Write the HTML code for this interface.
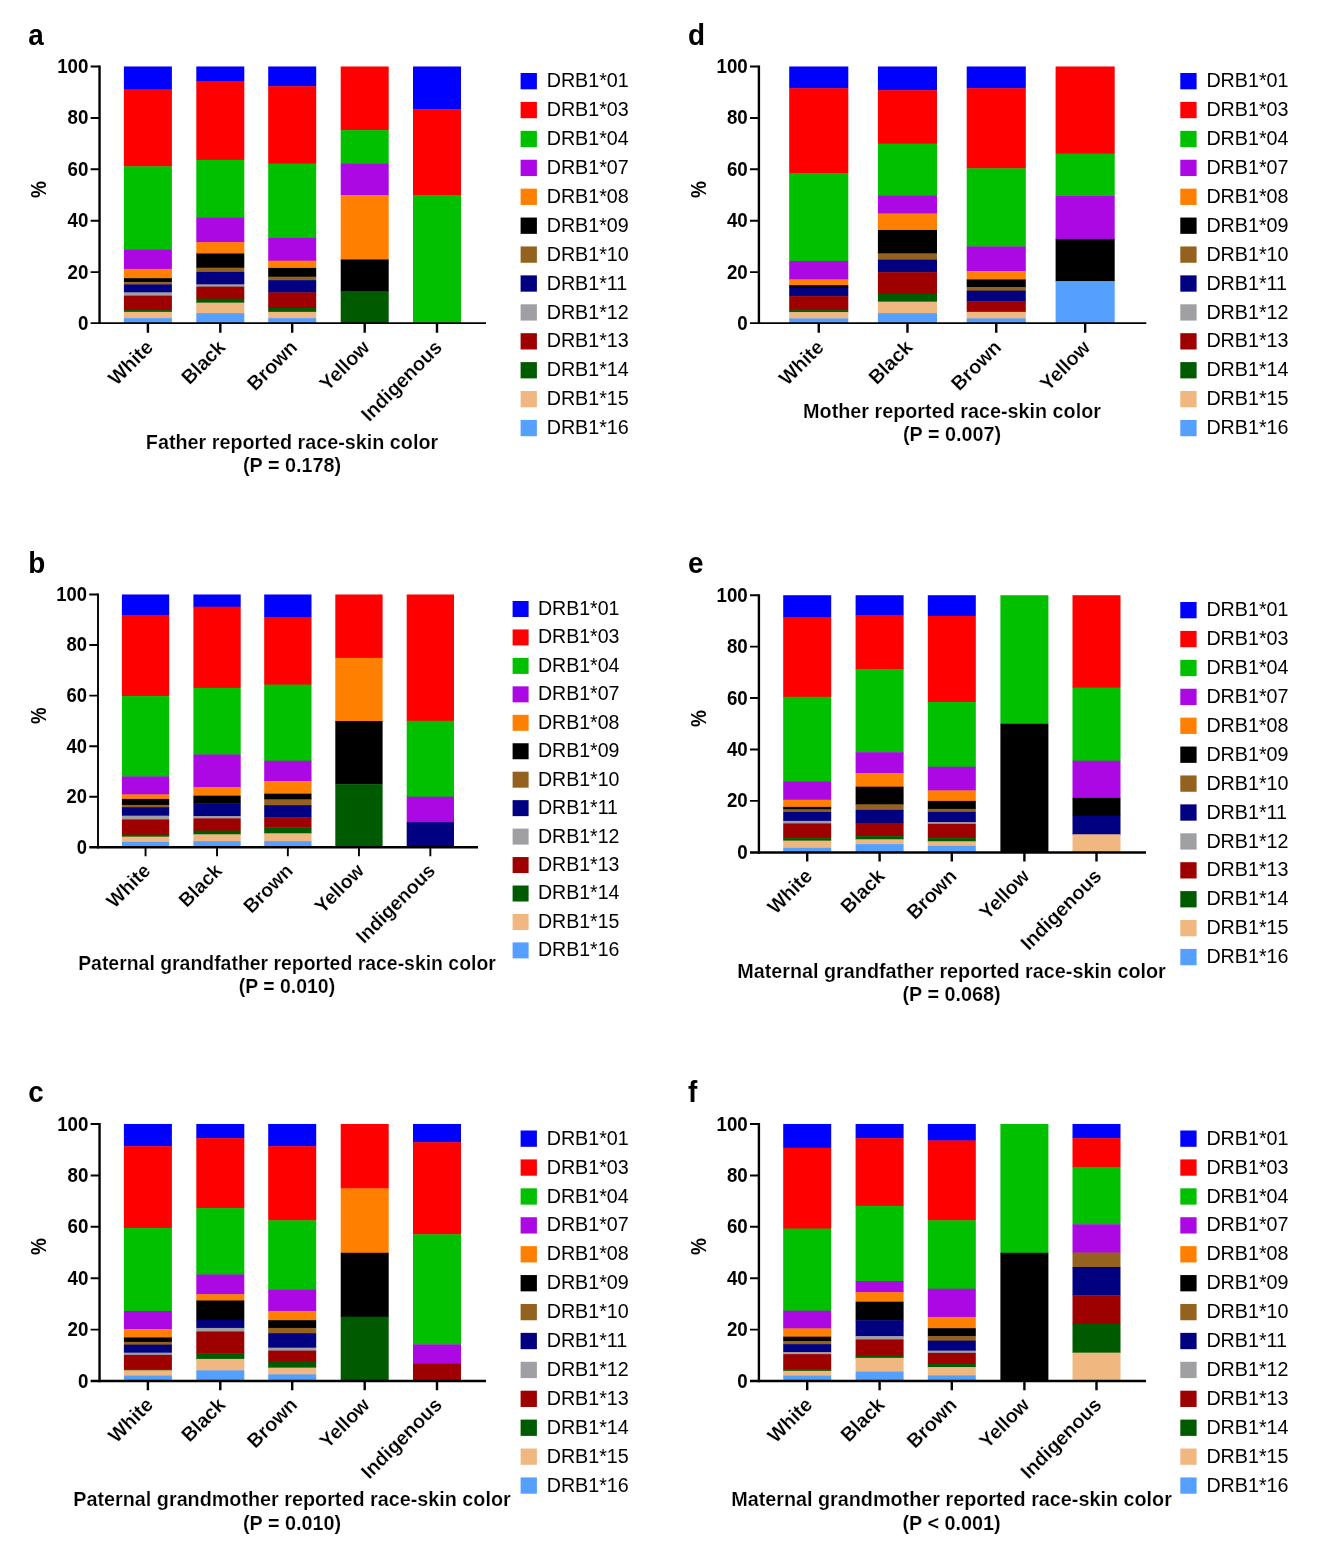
<!DOCTYPE html>
<html><head><meta charset="utf-8"><title>HLA-DRB1 by reported race-skin color</title>
<style>html,body{margin:0;padding:0;background:#fff}svg{display:block;will-change:transform}text{font-family:"Liberation Sans",sans-serif;fill:#000}.L{font-weight:bold}.b{font-weight:bold;stroke:#fff;stroke-width:0.17px}</style></head><body>
<svg width="1322" height="1565" viewBox="0 0 1322 1565">
<rect width="1322" height="1565" fill="#fff"/>
<g><!-- panel a -->
<text class="L" transform="translate(28.2 44.6) scale(0.93 1)" font-size="30">a</text>
<rect x="123.9" y="66.48" width="48" height="23.37" fill="#0000FF"/>
<rect x="123.9" y="89.44" width="48" height="77.28" fill="#FF0000"/>
<rect x="123.9" y="166.33" width="48" height="83.53" fill="#00C000"/>
<rect x="123.9" y="249.45" width="48" height="19.87" fill="#AB08E3"/>
<rect x="123.9" y="268.92" width="48" height="9.64" fill="#FF8000"/>
<rect x="123.9" y="278.16" width="48" height="4.14" fill="#000000"/>
<rect x="123.9" y="281.9" width="48" height="2.9" fill="#94621E"/>
<rect x="123.9" y="284.4" width="48" height="8.39" fill="#000080"/>
<rect x="123.9" y="292.39" width="48" height="3.65" fill="#A0A0A4"/>
<rect x="123.9" y="295.63" width="48" height="14.88" fill="#9E0000"/>
<rect x="123.9" y="310.11" width="48" height="2.15" fill="#005A00"/>
<rect x="123.9" y="311.86" width="48" height="6.64" fill="#F0B880"/>
<rect x="123.9" y="318.1" width="48" height="5.14" fill="#55A0FF"/>
<rect x="196.3" y="66.48" width="48" height="14.88" fill="#0000FF"/>
<rect x="196.3" y="80.95" width="48" height="79.28" fill="#FF0000"/>
<rect x="196.3" y="159.84" width="48" height="58.06" fill="#00C000"/>
<rect x="196.3" y="217.5" width="48" height="25.11" fill="#AB08E3"/>
<rect x="196.3" y="242.21" width="48" height="11.63" fill="#FF8000"/>
<rect x="196.3" y="253.44" width="48" height="14.63" fill="#000000"/>
<rect x="196.3" y="267.67" width="48" height="4.64" fill="#94621E"/>
<rect x="196.3" y="271.92" width="48" height="12.88" fill="#000080"/>
<rect x="196.3" y="284.4" width="48" height="2.65" fill="#A0A0A4"/>
<rect x="196.3" y="286.65" width="48" height="12.38" fill="#9E0000"/>
<rect x="196.3" y="298.63" width="48" height="4.39" fill="#005A00"/>
<rect x="196.3" y="302.62" width="48" height="10.88" fill="#F0B880"/>
<rect x="196.3" y="313.11" width="48" height="10.14" fill="#55A0FF"/>
<rect x="268.2" y="66.48" width="48" height="20.12" fill="#0000FF"/>
<rect x="268.2" y="86.2" width="48" height="77.78" fill="#FF0000"/>
<rect x="268.2" y="163.58" width="48" height="74.79" fill="#00C000"/>
<rect x="268.2" y="237.97" width="48" height="23.12" fill="#AB08E3"/>
<rect x="268.2" y="260.68" width="48" height="7.64" fill="#FF8000"/>
<rect x="268.2" y="267.92" width="48" height="9.14" fill="#000000"/>
<rect x="268.2" y="276.66" width="48" height="3.89" fill="#94621E"/>
<rect x="268.2" y="280.15" width="48" height="12.63" fill="#000080"/>
<rect x="268.2" y="292.39" width="48" height="15.88" fill="#9E0000"/>
<rect x="268.2" y="307.86" width="48" height="4.39" fill="#005A00"/>
<rect x="268.2" y="311.86" width="48" height="6.64" fill="#F0B880"/>
<rect x="268.2" y="318.1" width="48" height="5.14" fill="#55A0FF"/>
<rect x="340.7" y="66.48" width="48" height="64.05" fill="#FF0000"/>
<rect x="340.7" y="130.13" width="48" height="33.6" fill="#00C000"/>
<rect x="340.7" y="163.33" width="48" height="32.1" fill="#AB08E3"/>
<rect x="340.7" y="195.03" width="48" height="64.8" fill="#FF8000"/>
<rect x="340.7" y="259.44" width="48" height="32.35" fill="#000000"/>
<rect x="340.7" y="291.39" width="48" height="31.85" fill="#005A00"/>
<rect x="413" y="66.48" width="48" height="43.09" fill="#0000FF"/>
<rect x="413" y="109.16" width="48" height="86.27" fill="#FF0000"/>
<rect x="413" y="195.03" width="48" height="128.21" fill="#00C000"/>
<path d="M99.55 65.53V324.1" stroke="#000" stroke-width="2.4" fill="none"/>
<path d="M90.65 323.2H486" stroke="#000" stroke-width="1.8" fill="none"/>
<text class="L" transform="translate(88.35 329.7) scale(0.935 1.045)" font-size="20" text-anchor="end">0</text>
<text class="L" transform="translate(88.35 278.6) scale(0.935 1.045)" font-size="20" text-anchor="end">20</text>
<text class="L" transform="translate(88.35 227.2) scale(0.935 1.045)" font-size="20" text-anchor="end">40</text>
<text class="L" transform="translate(88.35 175.8) scale(0.935 1.045)" font-size="20" text-anchor="end">60</text>
<text class="L" transform="translate(88.35 124.4) scale(0.935 1.045)" font-size="20" text-anchor="end">80</text>
<text class="L" transform="translate(88.35 73) scale(0.935 1.045)" font-size="20" text-anchor="end">100</text>
<path d="M90.65 272.1H99.55M90.65 220.7H99.55M90.65 169.3H99.55M90.65 117.9H99.55M90.65 66.5H99.55" stroke="#000" stroke-width="1.95" fill="none"/>
<text class="b" transform="translate(154.1 348.6) rotate(-45) scale(0.98 1)" font-size="20" text-anchor="end">White</text>
<text class="b" transform="translate(226.5 348.6) rotate(-45) scale(0.98 1)" font-size="20" text-anchor="end">Black</text>
<text class="b" transform="translate(298.4 348.6) rotate(-45) scale(0.98 1)" font-size="20" text-anchor="end">Brown</text>
<text class="b" transform="translate(370.9 348.6) rotate(-45) scale(0.98 1)" font-size="20" text-anchor="end">Yellow</text>
<text class="b" transform="translate(443.2 348.6) rotate(-45) scale(0.98 1)" font-size="20" text-anchor="end">Indigenous</text>
<path d="M147.9 323.2V332.7M220.3 323.2V332.7M292.2 323.2V332.7M364.7 323.2V332.7M437 323.2V332.7" stroke="#000" stroke-width="2.4" fill="none"/>
<text class="L" transform="translate(46.2 189.6) rotate(-90) scale(0.95 1.08)" font-size="20" text-anchor="middle">%</text>
<text class="b" transform="translate(292 448.6) scale(1 1.035)" font-size="19.8" text-anchor="middle">Father reported race-skin color</text>
<text class="b" transform="translate(292 472) scale(1 1.035)" font-size="19.8" text-anchor="middle">(P = 0.178)</text>
<rect x="520.6" y="73" width="16.3" height="16.3" fill="#0000FF"/>
<text x="546.7" y="87.25" font-size="19.7">DRB1*01</text>
<rect x="520.6" y="101.91" width="16.3" height="16.3" fill="#FF0000"/>
<text x="546.7" y="116.16" font-size="19.7">DRB1*03</text>
<rect x="520.6" y="130.82" width="16.3" height="16.3" fill="#00C000"/>
<text x="546.7" y="145.07" font-size="19.7">DRB1*04</text>
<rect x="520.6" y="159.73" width="16.3" height="16.3" fill="#AB08E3"/>
<text x="546.7" y="173.98" font-size="19.7">DRB1*07</text>
<rect x="520.6" y="188.64" width="16.3" height="16.3" fill="#FF8000"/>
<text x="546.7" y="202.89" font-size="19.7">DRB1*08</text>
<rect x="520.6" y="217.55" width="16.3" height="16.3" fill="#000000"/>
<text x="546.7" y="231.8" font-size="19.7">DRB1*09</text>
<rect x="520.6" y="246.46" width="16.3" height="16.3" fill="#94621E"/>
<text x="546.7" y="260.71" font-size="19.7">DRB1*10</text>
<rect x="520.6" y="275.37" width="16.3" height="16.3" fill="#000080"/>
<text x="546.7" y="289.62" font-size="19.7">DRB1*11</text>
<rect x="520.6" y="304.28" width="16.3" height="16.3" fill="#A0A0A4"/>
<text x="546.7" y="318.53" font-size="19.7">DRB1*12</text>
<rect x="520.6" y="333.19" width="16.3" height="16.3" fill="#9E0000"/>
<text x="546.7" y="347.44" font-size="19.7">DRB1*13</text>
<rect x="520.6" y="362.1" width="16.3" height="16.3" fill="#005A00"/>
<text x="546.7" y="376.35" font-size="19.7">DRB1*14</text>
<rect x="520.6" y="391.01" width="16.3" height="16.3" fill="#F0B880"/>
<text x="546.7" y="405.26" font-size="19.7">DRB1*15</text>
<rect x="520.6" y="419.92" width="16.3" height="16.3" fill="#55A0FF"/>
<text x="546.7" y="434.17" font-size="19.7">DRB1*16</text>
</g>
<g><!-- panel b -->
<text class="L" transform="translate(28.2 573) scale(0.93 1)" font-size="30">b</text>
<rect x="121.9" y="594.48" width="47.3" height="20.87" fill="#0000FF"/>
<rect x="121.9" y="614.94" width="47.3" height="81.53" fill="#FF0000"/>
<rect x="121.9" y="696.07" width="47.3" height="80.78" fill="#00C000"/>
<rect x="121.9" y="776.45" width="47.3" height="18.37" fill="#AB08E3"/>
<rect x="121.9" y="794.43" width="47.3" height="4.89" fill="#FF8000"/>
<rect x="121.9" y="798.92" width="47.3" height="6.39" fill="#000000"/>
<rect x="121.9" y="804.91" width="47.3" height="2.65" fill="#94621E"/>
<rect x="121.9" y="807.16" width="47.3" height="8.89" fill="#000080"/>
<rect x="121.9" y="815.64" width="47.3" height="4.14" fill="#A0A0A4"/>
<rect x="121.9" y="819.39" width="47.3" height="15.63" fill="#9E0000"/>
<rect x="121.9" y="834.62" width="47.3" height="2.4" fill="#005A00"/>
<rect x="121.9" y="836.61" width="47.3" height="5.64" fill="#F0B880"/>
<rect x="121.9" y="841.85" width="47.3" height="4.89" fill="#55A0FF"/>
<rect x="193.4" y="594.48" width="47.3" height="12.63" fill="#0000FF"/>
<rect x="193.4" y="606.71" width="47.3" height="81.53" fill="#FF0000"/>
<rect x="193.4" y="687.84" width="47.3" height="67.05" fill="#00C000"/>
<rect x="193.4" y="754.49" width="47.3" height="33.1" fill="#AB08E3"/>
<rect x="193.4" y="787.19" width="47.3" height="8.89" fill="#FF8000"/>
<rect x="193.4" y="795.67" width="47.3" height="8.14" fill="#000000"/>
<rect x="193.4" y="803.41" width="47.3" height="13.13" fill="#000080"/>
<rect x="193.4" y="816.14" width="47.3" height="2.65" fill="#A0A0A4"/>
<rect x="193.4" y="818.39" width="47.3" height="12.63" fill="#9E0000"/>
<rect x="193.4" y="830.62" width="47.3" height="4.14" fill="#005A00"/>
<rect x="193.4" y="834.37" width="47.3" height="7.14" fill="#F0B880"/>
<rect x="193.4" y="841.11" width="47.3" height="5.64" fill="#55A0FF"/>
<rect x="264.2" y="594.48" width="47.3" height="22.87" fill="#0000FF"/>
<rect x="264.2" y="616.94" width="47.3" height="68.05" fill="#FF0000"/>
<rect x="264.2" y="684.59" width="47.3" height="76.54" fill="#00C000"/>
<rect x="264.2" y="760.73" width="47.3" height="20.87" fill="#AB08E3"/>
<rect x="264.2" y="781.2" width="47.3" height="12.88" fill="#FF8000"/>
<rect x="264.2" y="793.68" width="47.3" height="6.14" fill="#000000"/>
<rect x="264.2" y="799.42" width="47.3" height="6.14" fill="#94621E"/>
<rect x="264.2" y="805.16" width="47.3" height="12.38" fill="#000080"/>
<rect x="264.2" y="817.14" width="47.3" height="10.63" fill="#9E0000"/>
<rect x="264.2" y="827.38" width="47.3" height="6.39" fill="#005A00"/>
<rect x="264.2" y="833.37" width="47.3" height="8.14" fill="#F0B880"/>
<rect x="264.2" y="841.11" width="47.3" height="5.64" fill="#55A0FF"/>
<rect x="335.3" y="594.48" width="47.3" height="63.8" fill="#FF0000"/>
<rect x="335.3" y="657.88" width="47.3" height="63.56" fill="#FF8000"/>
<rect x="335.3" y="721.04" width="47.3" height="63.56" fill="#000000"/>
<rect x="335.3" y="784.19" width="47.3" height="62.56" fill="#005A00"/>
<rect x="406.7" y="594.48" width="47.3" height="126.71" fill="#FF0000"/>
<rect x="406.7" y="720.79" width="47.3" height="76.29" fill="#00C000"/>
<rect x="406.7" y="796.67" width="47.3" height="25.86" fill="#AB08E3"/>
<rect x="406.7" y="822.13" width="47.3" height="24.61" fill="#000080"/>
<path d="M98 593.54V848.55" stroke="#000" stroke-width="1.9" fill="none"/>
<path d="M89.26 847.3H478" stroke="#000" stroke-width="2.5" fill="none"/>
<text class="L" transform="translate(87 853.68) scale(0.935 1.045)" font-size="19.64" text-anchor="end">0</text>
<text class="L" transform="translate(87 803.12) scale(0.935 1.045)" font-size="19.64" text-anchor="end">20</text>
<text class="L" transform="translate(87 752.56) scale(0.935 1.045)" font-size="19.64" text-anchor="end">40</text>
<text class="L" transform="translate(87 702) scale(0.935 1.045)" font-size="19.64" text-anchor="end">60</text>
<text class="L" transform="translate(87 651.44) scale(0.935 1.045)" font-size="19.64" text-anchor="end">80</text>
<text class="L" transform="translate(87 600.88) scale(0.935 1.045)" font-size="19.64" text-anchor="end">100</text>
<path d="M89.26 796.74H98M89.26 746.18H98M89.26 695.62H98M89.26 645.06H98M89.26 594.5H98" stroke="#000" stroke-width="1.91" fill="none"/>
<text class="b" transform="translate(151.64 871.95) rotate(-45) scale(0.98 1)" font-size="19.64" text-anchor="end">White</text>
<text class="b" transform="translate(223.14 871.95) rotate(-45) scale(0.98 1)" font-size="19.64" text-anchor="end">Black</text>
<text class="b" transform="translate(293.94 871.95) rotate(-45) scale(0.98 1)" font-size="19.64" text-anchor="end">Brown</text>
<text class="b" transform="translate(365.04 871.95) rotate(-45) scale(0.98 1)" font-size="19.64" text-anchor="end">Yellow</text>
<text class="b" transform="translate(436.44 871.95) rotate(-45) scale(0.98 1)" font-size="19.64" text-anchor="end">Indigenous</text>
<path d="M145.55 847.3V856.33M217.05 847.3V856.33M287.85 847.3V856.33M358.95 847.3V856.33M430.35 847.3V856.33" stroke="#000" stroke-width="1.9" fill="none"/>
<text class="L" transform="translate(46.2 715.6) rotate(-90) scale(0.95 1.08)" font-size="19.64" text-anchor="middle">%</text>
<text class="b" transform="translate(287 970) scale(1 1.035)" font-size="19.44" text-anchor="middle">Paternal grandfather reported race-skin color</text>
<text class="b" transform="translate(287 992.5) scale(1 1.035)" font-size="19.44" text-anchor="middle">(P = 0.010)</text>
<rect x="512.6" y="601" width="16" height="16" fill="#0000FF"/>
<text x="538" y="614.99" font-size="19.55">DRB1*01</text>
<rect x="512.6" y="629.45" width="16" height="16" fill="#FF0000"/>
<text x="538" y="643.44" font-size="19.55">DRB1*03</text>
<rect x="512.6" y="657.9" width="16" height="16" fill="#00C000"/>
<text x="538" y="671.89" font-size="19.55">DRB1*04</text>
<rect x="512.6" y="686.35" width="16" height="16" fill="#AB08E3"/>
<text x="538" y="700.34" font-size="19.55">DRB1*07</text>
<rect x="512.6" y="714.8" width="16" height="16" fill="#FF8000"/>
<text x="538" y="728.79" font-size="19.55">DRB1*08</text>
<rect x="512.6" y="743.25" width="16" height="16" fill="#000000"/>
<text x="538" y="757.24" font-size="19.55">DRB1*09</text>
<rect x="512.6" y="771.7" width="16" height="16" fill="#94621E"/>
<text x="538" y="785.69" font-size="19.55">DRB1*10</text>
<rect x="512.6" y="800.15" width="16" height="16" fill="#000080"/>
<text x="538" y="814.14" font-size="19.55">DRB1*11</text>
<rect x="512.6" y="828.6" width="16" height="16" fill="#A0A0A4"/>
<text x="538" y="842.59" font-size="19.55">DRB1*12</text>
<rect x="512.6" y="857.05" width="16" height="16" fill="#9E0000"/>
<text x="538" y="871.04" font-size="19.55">DRB1*13</text>
<rect x="512.6" y="885.5" width="16" height="16" fill="#005A00"/>
<text x="538" y="899.49" font-size="19.55">DRB1*14</text>
<rect x="512.6" y="913.95" width="16" height="16" fill="#F0B880"/>
<text x="538" y="927.94" font-size="19.55">DRB1*15</text>
<rect x="512.6" y="942.4" width="16" height="16" fill="#55A0FF"/>
<text x="538" y="956.39" font-size="19.55">DRB1*16</text>
</g>
<g><!-- panel c -->
<text class="L" transform="translate(28.2 1102) scale(0.93 1)" font-size="30">c</text>
<rect x="123.9" y="1123.97" width="48" height="22.62" fill="#0000FF"/>
<rect x="123.9" y="1146.19" width="48" height="82.28" fill="#FF0000"/>
<rect x="123.9" y="1228.07" width="48" height="83.28" fill="#00C000"/>
<rect x="123.9" y="1310.94" width="48" height="18.62" fill="#AB08E3"/>
<rect x="123.9" y="1329.17" width="48" height="8.64" fill="#FF8000"/>
<rect x="123.9" y="1337.4" width="48" height="4.89" fill="#000000"/>
<rect x="123.9" y="1341.9" width="48" height="3.15" fill="#94621E"/>
<rect x="123.9" y="1344.64" width="48" height="8.39" fill="#000080"/>
<rect x="123.9" y="1352.63" width="48" height="2.65" fill="#A0A0A4"/>
<rect x="123.9" y="1354.88" width="48" height="14.63" fill="#9E0000"/>
<rect x="123.9" y="1369.11" width="48" height="1.65" fill="#005A00"/>
<rect x="123.9" y="1370.35" width="48" height="5.64" fill="#F0B880"/>
<rect x="123.9" y="1375.6" width="48" height="5.14" fill="#55A0FF"/>
<rect x="196.3" y="1123.97" width="48" height="14.63" fill="#0000FF"/>
<rect x="196.3" y="1138.2" width="48" height="70.3" fill="#FF0000"/>
<rect x="196.3" y="1208.1" width="48" height="66.8" fill="#00C000"/>
<rect x="196.3" y="1274.5" width="48" height="20.12" fill="#AB08E3"/>
<rect x="196.3" y="1294.22" width="48" height="6.64" fill="#FF8000"/>
<rect x="196.3" y="1300.46" width="48" height="19.87" fill="#000000"/>
<rect x="196.3" y="1319.93" width="48" height="8.39" fill="#000080"/>
<rect x="196.3" y="1327.92" width="48" height="3.89" fill="#A0A0A4"/>
<rect x="196.3" y="1331.41" width="48" height="22.12" fill="#9E0000"/>
<rect x="196.3" y="1353.13" width="48" height="6.14" fill="#005A00"/>
<rect x="196.3" y="1358.87" width="48" height="11.88" fill="#F0B880"/>
<rect x="196.3" y="1370.35" width="48" height="10.39" fill="#55A0FF"/>
<rect x="268.2" y="1123.97" width="48" height="22.62" fill="#0000FF"/>
<rect x="268.2" y="1146.19" width="48" height="74.54" fill="#FF0000"/>
<rect x="268.2" y="1220.33" width="48" height="69.8" fill="#00C000"/>
<rect x="268.2" y="1289.73" width="48" height="21.62" fill="#AB08E3"/>
<rect x="268.2" y="1310.94" width="48" height="9.64" fill="#FF8000"/>
<rect x="268.2" y="1320.18" width="48" height="8.14" fill="#000000"/>
<rect x="268.2" y="1327.92" width="48" height="5.64" fill="#94621E"/>
<rect x="268.2" y="1333.16" width="48" height="14.88" fill="#000080"/>
<rect x="268.2" y="1347.64" width="48" height="3.4" fill="#A0A0A4"/>
<rect x="268.2" y="1350.63" width="48" height="11.38" fill="#9E0000"/>
<rect x="268.2" y="1361.62" width="48" height="6.39" fill="#005A00"/>
<rect x="268.2" y="1367.61" width="48" height="7.14" fill="#F0B880"/>
<rect x="268.2" y="1374.35" width="48" height="6.39" fill="#55A0FF"/>
<rect x="340.7" y="1123.97" width="48" height="64.8" fill="#FF0000"/>
<rect x="340.7" y="1188.38" width="48" height="64.8" fill="#FF8000"/>
<rect x="340.7" y="1252.78" width="48" height="64.3" fill="#000000"/>
<rect x="340.7" y="1316.69" width="48" height="64.05" fill="#005A00"/>
<rect x="413" y="1123.97" width="48" height="18.62" fill="#0000FF"/>
<rect x="413" y="1142.2" width="48" height="92.51" fill="#FF0000"/>
<rect x="413" y="1234.31" width="48" height="110.48" fill="#00C000"/>
<rect x="413" y="1344.39" width="48" height="19.37" fill="#AB08E3"/>
<rect x="413" y="1363.37" width="48" height="17.37" fill="#9E0000"/>
<path d="M99.55 1123.03V1382.2" stroke="#000" stroke-width="2.4" fill="none"/>
<path d="M90.65 1381H486" stroke="#000" stroke-width="2.4" fill="none"/>
<text class="L" transform="translate(88.35 1387.5) scale(0.935 1.045)" font-size="20" text-anchor="end">0</text>
<text class="L" transform="translate(88.35 1336.1) scale(0.935 1.045)" font-size="20" text-anchor="end">20</text>
<text class="L" transform="translate(88.35 1284.7) scale(0.935 1.045)" font-size="20" text-anchor="end">40</text>
<text class="L" transform="translate(88.35 1233.3) scale(0.935 1.045)" font-size="20" text-anchor="end">60</text>
<text class="L" transform="translate(88.35 1181.9) scale(0.935 1.045)" font-size="20" text-anchor="end">80</text>
<text class="L" transform="translate(88.35 1130.5) scale(0.935 1.045)" font-size="20" text-anchor="end">100</text>
<path d="M90.65 1329.6H99.55M90.65 1278.2H99.55M90.65 1226.8H99.55M90.65 1175.4H99.55M90.65 1124H99.55" stroke="#000" stroke-width="1.95" fill="none"/>
<text class="b" transform="translate(154.1 1406.1) rotate(-45) scale(0.98 1)" font-size="20" text-anchor="end">White</text>
<text class="b" transform="translate(226.5 1406.1) rotate(-45) scale(0.98 1)" font-size="20" text-anchor="end">Black</text>
<text class="b" transform="translate(298.4 1406.1) rotate(-45) scale(0.98 1)" font-size="20" text-anchor="end">Brown</text>
<text class="b" transform="translate(370.9 1406.1) rotate(-45) scale(0.98 1)" font-size="20" text-anchor="end">Yellow</text>
<text class="b" transform="translate(443.2 1406.1) rotate(-45) scale(0.98 1)" font-size="20" text-anchor="end">Indigenous</text>
<path d="M147.9 1381V1390.2M220.3 1381V1390.2M292.2 1381V1390.2M364.7 1381V1390.2M437 1381V1390.2" stroke="#000" stroke-width="2.4" fill="none"/>
<text class="L" transform="translate(46.2 1246.6) rotate(-90) scale(0.95 1.08)" font-size="20" text-anchor="middle">%</text>
<text class="b" transform="translate(292 1506) scale(1 1.035)" font-size="19.8" text-anchor="middle">Paternal grandmother reported race-skin color</text>
<text class="b" transform="translate(292 1529.5) scale(1 1.035)" font-size="19.8" text-anchor="middle">(P = 0.010)</text>
<rect x="520.6" y="1130.5" width="16.3" height="16.3" fill="#0000FF"/>
<text x="546.7" y="1144.75" font-size="19.7">DRB1*01</text>
<rect x="520.6" y="1159.41" width="16.3" height="16.3" fill="#FF0000"/>
<text x="546.7" y="1173.66" font-size="19.7">DRB1*03</text>
<rect x="520.6" y="1188.32" width="16.3" height="16.3" fill="#00C000"/>
<text x="546.7" y="1202.57" font-size="19.7">DRB1*04</text>
<rect x="520.6" y="1217.23" width="16.3" height="16.3" fill="#AB08E3"/>
<text x="546.7" y="1231.48" font-size="19.7">DRB1*07</text>
<rect x="520.6" y="1246.14" width="16.3" height="16.3" fill="#FF8000"/>
<text x="546.7" y="1260.39" font-size="19.7">DRB1*08</text>
<rect x="520.6" y="1275.05" width="16.3" height="16.3" fill="#000000"/>
<text x="546.7" y="1289.3" font-size="19.7">DRB1*09</text>
<rect x="520.6" y="1303.96" width="16.3" height="16.3" fill="#94621E"/>
<text x="546.7" y="1318.21" font-size="19.7">DRB1*10</text>
<rect x="520.6" y="1332.87" width="16.3" height="16.3" fill="#000080"/>
<text x="546.7" y="1347.12" font-size="19.7">DRB1*11</text>
<rect x="520.6" y="1361.78" width="16.3" height="16.3" fill="#A0A0A4"/>
<text x="546.7" y="1376.03" font-size="19.7">DRB1*12</text>
<rect x="520.6" y="1390.69" width="16.3" height="16.3" fill="#9E0000"/>
<text x="546.7" y="1404.94" font-size="19.7">DRB1*13</text>
<rect x="520.6" y="1419.6" width="16.3" height="16.3" fill="#005A00"/>
<text x="546.7" y="1433.85" font-size="19.7">DRB1*14</text>
<rect x="520.6" y="1448.51" width="16.3" height="16.3" fill="#F0B880"/>
<text x="546.7" y="1462.76" font-size="19.7">DRB1*15</text>
<rect x="520.6" y="1477.42" width="16.3" height="16.3" fill="#55A0FF"/>
<text x="546.7" y="1491.67" font-size="19.7">DRB1*16</text>
</g>
<g><!-- panel d -->
<text class="L" transform="translate(688 44.6) scale(0.93 1)" font-size="30">d</text>
<rect x="789.2" y="66.48" width="59.1" height="22.12" fill="#0000FF"/>
<rect x="789.2" y="88.19" width="59.1" height="85.27" fill="#FF0000"/>
<rect x="789.2" y="173.07" width="59.1" height="88.27" fill="#00C000"/>
<rect x="789.2" y="260.93" width="59.1" height="18.87" fill="#AB08E3"/>
<rect x="789.2" y="279.41" width="59.1" height="6.14" fill="#FF8000"/>
<rect x="789.2" y="285.15" width="59.1" height="2.9" fill="#000000"/>
<rect x="789.2" y="287.64" width="59.1" height="8.89" fill="#000080"/>
<rect x="789.2" y="296.13" width="59.1" height="14.38" fill="#9E0000"/>
<rect x="789.2" y="310.11" width="59.1" height="2.4" fill="#005A00"/>
<rect x="789.2" y="312.11" width="59.1" height="6.64" fill="#F0B880"/>
<rect x="789.2" y="318.35" width="59.1" height="4.89" fill="#55A0FF"/>
<rect x="877.9" y="66.48" width="59.1" height="24.11" fill="#0000FF"/>
<rect x="877.9" y="90.19" width="59.1" height="53.82" fill="#FF0000"/>
<rect x="877.9" y="143.61" width="59.1" height="52.07" fill="#00C000"/>
<rect x="877.9" y="195.28" width="59.1" height="18.62" fill="#AB08E3"/>
<rect x="877.9" y="213.5" width="59.1" height="16.88" fill="#FF8000"/>
<rect x="877.9" y="229.98" width="59.1" height="23.86" fill="#000000"/>
<rect x="877.9" y="253.44" width="59.1" height="6.64" fill="#94621E"/>
<rect x="877.9" y="259.69" width="59.1" height="12.88" fill="#000080"/>
<rect x="877.9" y="272.17" width="59.1" height="22.12" fill="#9E0000"/>
<rect x="877.9" y="293.88" width="59.1" height="8.14" fill="#005A00"/>
<rect x="877.9" y="301.62" width="59.1" height="11.88" fill="#F0B880"/>
<rect x="877.9" y="313.11" width="59.1" height="10.14" fill="#55A0FF"/>
<rect x="966.7" y="66.48" width="59.1" height="22.12" fill="#0000FF"/>
<rect x="966.7" y="88.19" width="59.1" height="80.53" fill="#FF0000"/>
<rect x="966.7" y="168.32" width="59.1" height="78.53" fill="#00C000"/>
<rect x="966.7" y="246.46" width="59.1" height="25.11" fill="#AB08E3"/>
<rect x="966.7" y="271.17" width="59.1" height="8.64" fill="#FF8000"/>
<rect x="966.7" y="279.41" width="59.1" height="8.14" fill="#000000"/>
<rect x="966.7" y="287.14" width="59.1" height="3.89" fill="#94621E"/>
<rect x="966.7" y="290.64" width="59.1" height="10.88" fill="#000080"/>
<rect x="966.7" y="301.12" width="59.1" height="11.13" fill="#9E0000"/>
<rect x="966.7" y="311.86" width="59.1" height="6.89" fill="#F0B880"/>
<rect x="966.7" y="318.35" width="59.1" height="4.89" fill="#55A0FF"/>
<rect x="1055.6" y="66.48" width="59.1" height="87.52" fill="#FF0000"/>
<rect x="1055.6" y="153.59" width="59.1" height="42.84" fill="#00C000"/>
<rect x="1055.6" y="196.03" width="59.1" height="43.34" fill="#AB08E3"/>
<rect x="1055.6" y="238.97" width="59.1" height="42.59" fill="#000000"/>
<rect x="1055.6" y="281.15" width="59.1" height="42.09" fill="#55A0FF"/>
<path d="M758.9 65.53V324.1" stroke="#000" stroke-width="2.4" fill="none"/>
<path d="M750 323.2H1146.3" stroke="#000" stroke-width="1.8" fill="none"/>
<text class="L" transform="translate(747.7 329.7) scale(0.935 1.045)" font-size="20" text-anchor="end">0</text>
<text class="L" transform="translate(747.7 278.6) scale(0.935 1.045)" font-size="20" text-anchor="end">20</text>
<text class="L" transform="translate(747.7 227.2) scale(0.935 1.045)" font-size="20" text-anchor="end">40</text>
<text class="L" transform="translate(747.7 175.8) scale(0.935 1.045)" font-size="20" text-anchor="end">60</text>
<text class="L" transform="translate(747.7 124.4) scale(0.935 1.045)" font-size="20" text-anchor="end">80</text>
<text class="L" transform="translate(747.7 73) scale(0.935 1.045)" font-size="20" text-anchor="end">100</text>
<path d="M750 272.1H758.9M750 220.7H758.9M750 169.3H758.9M750 117.9H758.9M750 66.5H758.9" stroke="#000" stroke-width="1.95" fill="none"/>
<text class="b" transform="translate(824.95 348.6) rotate(-45) scale(0.98 1)" font-size="20" text-anchor="end">White</text>
<text class="b" transform="translate(913.65 348.6) rotate(-45) scale(0.98 1)" font-size="20" text-anchor="end">Black</text>
<text class="b" transform="translate(1002.45 348.6) rotate(-45) scale(0.98 1)" font-size="20" text-anchor="end">Brown</text>
<text class="b" transform="translate(1091.35 348.6) rotate(-45) scale(0.98 1)" font-size="20" text-anchor="end">Yellow</text>
<path d="M818.75 323.2V332.7M907.45 323.2V332.7M996.25 323.2V332.7M1085.15 323.2V332.7" stroke="#000" stroke-width="2.4" fill="none"/>
<text class="L" transform="translate(706.2 189.6) rotate(-90) scale(0.95 1.08)" font-size="20" text-anchor="middle">%</text>
<text class="b" transform="translate(952 417.5) scale(1 1.035)" font-size="19.8" text-anchor="middle">Mother reported race-skin color</text>
<text class="b" transform="translate(952 441) scale(1 1.035)" font-size="19.8" text-anchor="middle">(P = 0.007)</text>
<rect x="1180.3" y="73" width="16.3" height="16.3" fill="#0000FF"/>
<text x="1206.4" y="87.25" font-size="19.7">DRB1*01</text>
<rect x="1180.3" y="101.91" width="16.3" height="16.3" fill="#FF0000"/>
<text x="1206.4" y="116.16" font-size="19.7">DRB1*03</text>
<rect x="1180.3" y="130.82" width="16.3" height="16.3" fill="#00C000"/>
<text x="1206.4" y="145.07" font-size="19.7">DRB1*04</text>
<rect x="1180.3" y="159.73" width="16.3" height="16.3" fill="#AB08E3"/>
<text x="1206.4" y="173.98" font-size="19.7">DRB1*07</text>
<rect x="1180.3" y="188.64" width="16.3" height="16.3" fill="#FF8000"/>
<text x="1206.4" y="202.89" font-size="19.7">DRB1*08</text>
<rect x="1180.3" y="217.55" width="16.3" height="16.3" fill="#000000"/>
<text x="1206.4" y="231.8" font-size="19.7">DRB1*09</text>
<rect x="1180.3" y="246.46" width="16.3" height="16.3" fill="#94621E"/>
<text x="1206.4" y="260.71" font-size="19.7">DRB1*10</text>
<rect x="1180.3" y="275.37" width="16.3" height="16.3" fill="#000080"/>
<text x="1206.4" y="289.62" font-size="19.7">DRB1*11</text>
<rect x="1180.3" y="304.28" width="16.3" height="16.3" fill="#A0A0A4"/>
<text x="1206.4" y="318.53" font-size="19.7">DRB1*12</text>
<rect x="1180.3" y="333.19" width="16.3" height="16.3" fill="#9E0000"/>
<text x="1206.4" y="347.44" font-size="19.7">DRB1*13</text>
<rect x="1180.3" y="362.1" width="16.3" height="16.3" fill="#005A00"/>
<text x="1206.4" y="376.35" font-size="19.7">DRB1*14</text>
<rect x="1180.3" y="391.01" width="16.3" height="16.3" fill="#F0B880"/>
<text x="1206.4" y="405.26" font-size="19.7">DRB1*15</text>
<rect x="1180.3" y="419.92" width="16.3" height="16.3" fill="#55A0FF"/>
<text x="1206.4" y="434.17" font-size="19.7">DRB1*16</text>
</g>
<g><!-- panel e -->
<text class="L" transform="translate(688 573) scale(0.93 1)" font-size="30">e</text>
<rect x="783.2" y="595.22" width="48" height="22.12" fill="#0000FF"/>
<rect x="783.2" y="616.94" width="48" height="80.28" fill="#FF0000"/>
<rect x="783.2" y="696.82" width="48" height="84.77" fill="#00C000"/>
<rect x="783.2" y="781.2" width="48" height="18.87" fill="#AB08E3"/>
<rect x="783.2" y="799.67" width="48" height="7.64" fill="#FF8000"/>
<rect x="783.2" y="806.91" width="48" height="2.9" fill="#000000"/>
<rect x="783.2" y="809.4" width="48" height="2.9" fill="#94621E"/>
<rect x="783.2" y="811.9" width="48" height="9.39" fill="#000080"/>
<rect x="783.2" y="820.89" width="48" height="2.9" fill="#A0A0A4"/>
<rect x="783.2" y="823.38" width="48" height="15.13" fill="#9E0000"/>
<rect x="783.2" y="838.11" width="48" height="2.9" fill="#005A00"/>
<rect x="783.2" y="840.61" width="48" height="7.64" fill="#F0B880"/>
<rect x="783.2" y="847.85" width="48" height="4.14" fill="#55A0FF"/>
<rect x="855.6" y="595.22" width="48" height="20.12" fill="#0000FF"/>
<rect x="855.6" y="614.94" width="48" height="54.82" fill="#FF0000"/>
<rect x="855.6" y="669.36" width="48" height="83.28" fill="#00C000"/>
<rect x="855.6" y="752.24" width="48" height="21.37" fill="#AB08E3"/>
<rect x="855.6" y="773.21" width="48" height="13.88" fill="#FF8000"/>
<rect x="855.6" y="786.69" width="48" height="18.12" fill="#000000"/>
<rect x="855.6" y="804.41" width="48" height="5.89" fill="#94621E"/>
<rect x="855.6" y="809.9" width="48" height="13.38" fill="#000080"/>
<rect x="855.6" y="822.88" width="48" height="13.63" fill="#9E0000"/>
<rect x="855.6" y="836.11" width="48" height="3.65" fill="#005A00"/>
<rect x="855.6" y="839.36" width="48" height="5.14" fill="#F0B880"/>
<rect x="855.6" y="844.1" width="48" height="7.89" fill="#55A0FF"/>
<rect x="927.8" y="595.22" width="48" height="21.12" fill="#0000FF"/>
<rect x="927.8" y="615.94" width="48" height="86.52" fill="#FF0000"/>
<rect x="927.8" y="702.06" width="48" height="65.05" fill="#00C000"/>
<rect x="927.8" y="766.72" width="48" height="24.11" fill="#AB08E3"/>
<rect x="927.8" y="790.43" width="48" height="10.88" fill="#FF8000"/>
<rect x="927.8" y="800.92" width="48" height="8.39" fill="#000000"/>
<rect x="927.8" y="808.9" width="48" height="3.4" fill="#94621E"/>
<rect x="927.8" y="811.9" width="48" height="10.63" fill="#000080"/>
<rect x="927.8" y="822.13" width="48" height="2.15" fill="#A0A0A4"/>
<rect x="927.8" y="823.88" width="48" height="14.63" fill="#9E0000"/>
<rect x="927.8" y="838.11" width="48" height="3.65" fill="#005A00"/>
<rect x="927.8" y="841.35" width="48" height="4.89" fill="#F0B880"/>
<rect x="927.8" y="845.85" width="48" height="6.14" fill="#55A0FF"/>
<rect x="1000.4" y="595.22" width="48" height="128.96" fill="#00C000"/>
<rect x="1000.4" y="723.78" width="48" height="128.21" fill="#000000"/>
<rect x="1072.5" y="595.22" width="48" height="92.76" fill="#FF0000"/>
<rect x="1072.5" y="687.59" width="48" height="73.54" fill="#00C000"/>
<rect x="1072.5" y="760.73" width="48" height="37.59" fill="#AB08E3"/>
<rect x="1072.5" y="797.92" width="48" height="18.12" fill="#000000"/>
<rect x="1072.5" y="815.64" width="48" height="19.12" fill="#000080"/>
<rect x="1072.5" y="834.37" width="48" height="17.62" fill="#F0B880"/>
<path d="M758.9 594.23V853.65" stroke="#000" stroke-width="2.4" fill="none"/>
<path d="M750 852.4H1146" stroke="#000" stroke-width="2.5" fill="none"/>
<text class="L" transform="translate(747.7 858.9) scale(0.935 1.045)" font-size="20" text-anchor="end">0</text>
<text class="L" transform="translate(747.7 807.38) scale(0.935 1.045)" font-size="20" text-anchor="end">20</text>
<text class="L" transform="translate(747.7 755.96) scale(0.935 1.045)" font-size="20" text-anchor="end">40</text>
<text class="L" transform="translate(747.7 704.54) scale(0.935 1.045)" font-size="20" text-anchor="end">60</text>
<text class="L" transform="translate(747.7 653.12) scale(0.935 1.045)" font-size="20" text-anchor="end">80</text>
<text class="L" transform="translate(747.7 601.7) scale(0.935 1.045)" font-size="20" text-anchor="end">100</text>
<path d="M750 800.88H758.9M750 749.46H758.9M750 698.04H758.9M750 646.62H758.9M750 595.2H758.9" stroke="#000" stroke-width="1.95" fill="none"/>
<text class="b" transform="translate(813.4 877.4) rotate(-45) scale(0.98 1)" font-size="20" text-anchor="end">White</text>
<text class="b" transform="translate(885.8 877.4) rotate(-45) scale(0.98 1)" font-size="20" text-anchor="end">Black</text>
<text class="b" transform="translate(958 877.4) rotate(-45) scale(0.98 1)" font-size="20" text-anchor="end">Brown</text>
<text class="b" transform="translate(1030.6 877.4) rotate(-45) scale(0.98 1)" font-size="20" text-anchor="end">Yellow</text>
<text class="b" transform="translate(1102.7 877.4) rotate(-45) scale(0.98 1)" font-size="20" text-anchor="end">Indigenous</text>
<path d="M807.2 852.4V861.5M879.6 852.4V861.5M951.8 852.4V861.5M1024.4 852.4V861.5M1096.5 852.4V861.5" stroke="#000" stroke-width="2.4" fill="none"/>
<text class="L" transform="translate(706.2 718.6) rotate(-90) scale(0.95 1.08)" font-size="20" text-anchor="middle">%</text>
<text class="b" transform="translate(951.5 977.7) scale(1 1.035)" font-size="19.8" text-anchor="middle">Maternal grandfather reported race-skin color</text>
<text class="b" transform="translate(951.5 1000.5) scale(1 1.035)" font-size="19.8" text-anchor="middle">(P = 0.068)</text>
<rect x="1180.3" y="602" width="16.3" height="16.3" fill="#0000FF"/>
<text x="1206.4" y="616.25" font-size="19.7">DRB1*01</text>
<rect x="1180.3" y="630.91" width="16.3" height="16.3" fill="#FF0000"/>
<text x="1206.4" y="645.16" font-size="19.7">DRB1*03</text>
<rect x="1180.3" y="659.82" width="16.3" height="16.3" fill="#00C000"/>
<text x="1206.4" y="674.07" font-size="19.7">DRB1*04</text>
<rect x="1180.3" y="688.73" width="16.3" height="16.3" fill="#AB08E3"/>
<text x="1206.4" y="702.98" font-size="19.7">DRB1*07</text>
<rect x="1180.3" y="717.64" width="16.3" height="16.3" fill="#FF8000"/>
<text x="1206.4" y="731.89" font-size="19.7">DRB1*08</text>
<rect x="1180.3" y="746.55" width="16.3" height="16.3" fill="#000000"/>
<text x="1206.4" y="760.8" font-size="19.7">DRB1*09</text>
<rect x="1180.3" y="775.46" width="16.3" height="16.3" fill="#94621E"/>
<text x="1206.4" y="789.71" font-size="19.7">DRB1*10</text>
<rect x="1180.3" y="804.37" width="16.3" height="16.3" fill="#000080"/>
<text x="1206.4" y="818.62" font-size="19.7">DRB1*11</text>
<rect x="1180.3" y="833.28" width="16.3" height="16.3" fill="#A0A0A4"/>
<text x="1206.4" y="847.53" font-size="19.7">DRB1*12</text>
<rect x="1180.3" y="862.19" width="16.3" height="16.3" fill="#9E0000"/>
<text x="1206.4" y="876.44" font-size="19.7">DRB1*13</text>
<rect x="1180.3" y="891.1" width="16.3" height="16.3" fill="#005A00"/>
<text x="1206.4" y="905.35" font-size="19.7">DRB1*14</text>
<rect x="1180.3" y="920.01" width="16.3" height="16.3" fill="#F0B880"/>
<text x="1206.4" y="934.26" font-size="19.7">DRB1*15</text>
<rect x="1180.3" y="948.92" width="16.3" height="16.3" fill="#55A0FF"/>
<text x="1206.4" y="963.17" font-size="19.7">DRB1*16</text>
</g>
<g><!-- panel f -->
<text class="L" transform="translate(688 1102) scale(0.93 1)" font-size="30">f</text>
<rect x="783.2" y="1123.97" width="48" height="24.11" fill="#0000FF"/>
<rect x="783.2" y="1147.69" width="48" height="81.28" fill="#FF0000"/>
<rect x="783.2" y="1228.57" width="48" height="82.53" fill="#00C000"/>
<rect x="783.2" y="1310.69" width="48" height="18.12" fill="#AB08E3"/>
<rect x="783.2" y="1328.42" width="48" height="8.64" fill="#FF8000"/>
<rect x="783.2" y="1336.66" width="48" height="4.89" fill="#000000"/>
<rect x="783.2" y="1341.15" width="48" height="3.4" fill="#94621E"/>
<rect x="783.2" y="1344.14" width="48" height="8.39" fill="#000080"/>
<rect x="783.2" y="1352.13" width="48" height="2.4" fill="#A0A0A4"/>
<rect x="783.2" y="1354.13" width="48" height="15.38" fill="#9E0000"/>
<rect x="783.2" y="1369.11" width="48" height="2.15" fill="#005A00"/>
<rect x="783.2" y="1370.85" width="48" height="5.14" fill="#F0B880"/>
<rect x="783.2" y="1375.6" width="48" height="5.14" fill="#55A0FF"/>
<rect x="855.6" y="1123.97" width="48" height="14.63" fill="#0000FF"/>
<rect x="855.6" y="1138.2" width="48" height="68.05" fill="#FF0000"/>
<rect x="855.6" y="1205.85" width="48" height="75.54" fill="#00C000"/>
<rect x="855.6" y="1280.99" width="48" height="11.63" fill="#AB08E3"/>
<rect x="855.6" y="1292.22" width="48" height="9.89" fill="#FF8000"/>
<rect x="855.6" y="1301.71" width="48" height="18.87" fill="#000000"/>
<rect x="855.6" y="1320.18" width="48" height="16.38" fill="#000080"/>
<rect x="855.6" y="1336.16" width="48" height="3.65" fill="#A0A0A4"/>
<rect x="855.6" y="1339.4" width="48" height="16.63" fill="#9E0000"/>
<rect x="855.6" y="1355.63" width="48" height="2.65" fill="#005A00"/>
<rect x="855.6" y="1357.87" width="48" height="14.13" fill="#F0B880"/>
<rect x="855.6" y="1371.6" width="48" height="9.14" fill="#55A0FF"/>
<rect x="927.8" y="1123.97" width="48" height="16.88" fill="#0000FF"/>
<rect x="927.8" y="1140.45" width="48" height="80.28" fill="#FF0000"/>
<rect x="927.8" y="1220.33" width="48" height="68.8" fill="#00C000"/>
<rect x="927.8" y="1288.73" width="48" height="28.61" fill="#AB08E3"/>
<rect x="927.8" y="1316.94" width="48" height="11.63" fill="#FF8000"/>
<rect x="927.8" y="1328.17" width="48" height="8.39" fill="#000000"/>
<rect x="927.8" y="1336.16" width="48" height="4.89" fill="#94621E"/>
<rect x="927.8" y="1340.65" width="48" height="10.39" fill="#000080"/>
<rect x="927.8" y="1350.63" width="48" height="2.65" fill="#A0A0A4"/>
<rect x="927.8" y="1352.88" width="48" height="11.63" fill="#9E0000"/>
<rect x="927.8" y="1364.11" width="48" height="3.4" fill="#005A00"/>
<rect x="927.8" y="1367.11" width="48" height="8.64" fill="#F0B880"/>
<rect x="927.8" y="1375.35" width="48" height="5.39" fill="#55A0FF"/>
<rect x="1000.4" y="1123.97" width="48" height="129.21" fill="#00C000"/>
<rect x="1000.4" y="1252.78" width="48" height="127.96" fill="#000000"/>
<rect x="1072.5" y="1123.97" width="48" height="14.63" fill="#0000FF"/>
<rect x="1072.5" y="1138.2" width="48" height="29.11" fill="#FF0000"/>
<rect x="1072.5" y="1166.91" width="48" height="57.81" fill="#00C000"/>
<rect x="1072.5" y="1224.32" width="48" height="28.61" fill="#AB08E3"/>
<rect x="1072.5" y="1252.53" width="48" height="14.88" fill="#94621E"/>
<rect x="1072.5" y="1267.01" width="48" height="28.61" fill="#000080"/>
<rect x="1072.5" y="1295.22" width="48" height="29.11" fill="#9E0000"/>
<rect x="1072.5" y="1323.92" width="48" height="29.11" fill="#005A00"/>
<rect x="1072.5" y="1352.63" width="48" height="28.11" fill="#F0B880"/>
<path d="M758.9 1123.03V1382.2" stroke="#000" stroke-width="2.4" fill="none"/>
<path d="M750 1381H1146" stroke="#000" stroke-width="2.4" fill="none"/>
<text class="L" transform="translate(747.7 1387.5) scale(0.935 1.045)" font-size="20" text-anchor="end">0</text>
<text class="L" transform="translate(747.7 1336.1) scale(0.935 1.045)" font-size="20" text-anchor="end">20</text>
<text class="L" transform="translate(747.7 1284.7) scale(0.935 1.045)" font-size="20" text-anchor="end">40</text>
<text class="L" transform="translate(747.7 1233.3) scale(0.935 1.045)" font-size="20" text-anchor="end">60</text>
<text class="L" transform="translate(747.7 1181.9) scale(0.935 1.045)" font-size="20" text-anchor="end">80</text>
<text class="L" transform="translate(747.7 1130.5) scale(0.935 1.045)" font-size="20" text-anchor="end">100</text>
<path d="M750 1329.6H758.9M750 1278.2H758.9M750 1226.8H758.9M750 1175.4H758.9M750 1124H758.9" stroke="#000" stroke-width="1.95" fill="none"/>
<text class="b" transform="translate(813.4 1406.1) rotate(-45) scale(0.98 1)" font-size="20" text-anchor="end">White</text>
<text class="b" transform="translate(885.8 1406.1) rotate(-45) scale(0.98 1)" font-size="20" text-anchor="end">Black</text>
<text class="b" transform="translate(958 1406.1) rotate(-45) scale(0.98 1)" font-size="20" text-anchor="end">Brown</text>
<text class="b" transform="translate(1030.6 1406.1) rotate(-45) scale(0.98 1)" font-size="20" text-anchor="end">Yellow</text>
<text class="b" transform="translate(1102.7 1406.1) rotate(-45) scale(0.98 1)" font-size="20" text-anchor="end">Indigenous</text>
<path d="M807.2 1381V1390.2M879.6 1381V1390.2M951.8 1381V1390.2M1024.4 1381V1390.2M1096.5 1381V1390.2" stroke="#000" stroke-width="2.4" fill="none"/>
<text class="L" transform="translate(706.2 1246.6) rotate(-90) scale(0.95 1.08)" font-size="20" text-anchor="middle">%</text>
<text class="b" transform="translate(951.5 1506) scale(1 1.035)" font-size="19.8" text-anchor="middle">Maternal grandmother reported race-skin color</text>
<text class="b" transform="translate(951.5 1529.5) scale(1 1.035)" font-size="19.8" text-anchor="middle">(P &lt; 0.001)</text>
<rect x="1180.3" y="1130.5" width="16.3" height="16.3" fill="#0000FF"/>
<text x="1206.4" y="1144.75" font-size="19.7">DRB1*01</text>
<rect x="1180.3" y="1159.41" width="16.3" height="16.3" fill="#FF0000"/>
<text x="1206.4" y="1173.66" font-size="19.7">DRB1*03</text>
<rect x="1180.3" y="1188.32" width="16.3" height="16.3" fill="#00C000"/>
<text x="1206.4" y="1202.57" font-size="19.7">DRB1*04</text>
<rect x="1180.3" y="1217.23" width="16.3" height="16.3" fill="#AB08E3"/>
<text x="1206.4" y="1231.48" font-size="19.7">DRB1*07</text>
<rect x="1180.3" y="1246.14" width="16.3" height="16.3" fill="#FF8000"/>
<text x="1206.4" y="1260.39" font-size="19.7">DRB1*08</text>
<rect x="1180.3" y="1275.05" width="16.3" height="16.3" fill="#000000"/>
<text x="1206.4" y="1289.3" font-size="19.7">DRB1*09</text>
<rect x="1180.3" y="1303.96" width="16.3" height="16.3" fill="#94621E"/>
<text x="1206.4" y="1318.21" font-size="19.7">DRB1*10</text>
<rect x="1180.3" y="1332.87" width="16.3" height="16.3" fill="#000080"/>
<text x="1206.4" y="1347.12" font-size="19.7">DRB1*11</text>
<rect x="1180.3" y="1361.78" width="16.3" height="16.3" fill="#A0A0A4"/>
<text x="1206.4" y="1376.03" font-size="19.7">DRB1*12</text>
<rect x="1180.3" y="1390.69" width="16.3" height="16.3" fill="#9E0000"/>
<text x="1206.4" y="1404.94" font-size="19.7">DRB1*13</text>
<rect x="1180.3" y="1419.6" width="16.3" height="16.3" fill="#005A00"/>
<text x="1206.4" y="1433.85" font-size="19.7">DRB1*14</text>
<rect x="1180.3" y="1448.51" width="16.3" height="16.3" fill="#F0B880"/>
<text x="1206.4" y="1462.76" font-size="19.7">DRB1*15</text>
<rect x="1180.3" y="1477.42" width="16.3" height="16.3" fill="#55A0FF"/>
<text x="1206.4" y="1491.67" font-size="19.7">DRB1*16</text>
</g>
</svg></body></html>
